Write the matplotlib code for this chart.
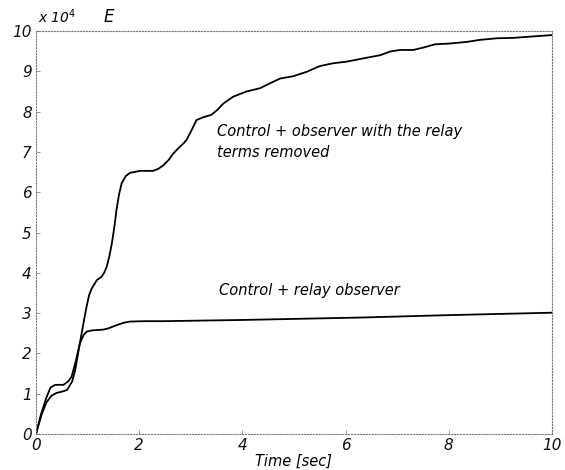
import matplotlib
matplotlib.use("Agg")
import matplotlib.pyplot as plt

# Data (E in units of 10^4)
t_removed = [0, 0.1, 0.2, 0.3, 0.4, 0.5, 0.6, 0.7, 0.76, 0.85, 0.92, 0.98, 1.03, 1.08,
             1.18, 1.27, 1.32, 1.37, 1.42, 1.47, 1.52, 1.56, 1.61, 1.66, 1.74, 1.82,
             2.02, 2.27, 2.37, 2.47, 2.57, 2.66, 2.79, 2.85, 2.92, 3.0, 3.11, 3.24,
             3.40, 3.52, 3.63, 3.82, 4.08, 4.34, 4.53, 4.73, 4.99, 5.25, 5.50, 5.76,
             6.02, 6.34, 6.67, 6.86, 7.05, 7.31, 7.51, 7.73, 8.02, 8.35, 8.60, 8.93,
             9.25, 9.57, 10.0]
E_removed = [0, 0.45, 0.78, 0.95, 1.02, 1.05, 1.09, 1.30, 1.59, 2.25, 2.75, 3.16, 3.45, 3.61,
             3.82, 3.90, 4.00, 4.15, 4.40, 4.73, 5.15, 5.56, 5.95, 6.22, 6.40, 6.48,
             6.53, 6.53, 6.58, 6.67, 6.80, 6.96, 7.13, 7.20, 7.30, 7.50, 7.79, 7.86,
             7.92, 8.05, 8.20, 8.37, 8.50, 8.58, 8.70, 8.82, 8.88, 8.99, 9.13, 9.20,
             9.24, 9.32, 9.40, 9.49, 9.53, 9.53, 9.59, 9.67, 9.69, 9.73, 9.78, 9.82,
             9.83, 9.86, 9.90]

t_relay = [0, 0.1, 0.2, 0.28, 0.37, 0.53, 0.62, 0.69, 0.77, 0.85, 0.92, 0.98, 1.08, 1.18,
           1.30, 1.40, 1.56, 1.70, 1.82, 2.1, 2.47, 4.0, 6.3, 8.0, 10.0]
E_relay = [0, 0.5, 0.9, 1.15, 1.22, 1.22, 1.30, 1.42, 1.80, 2.25, 2.45, 2.54, 2.57, 2.58,
           2.59, 2.62, 2.70, 2.76, 2.79, 2.80, 2.80, 2.83, 2.89, 2.95, 3.01]

x_ticks = [0, 2, 4, 6, 8, 10]
y_ticks = [0, 1, 2, 3, 4, 5, 6, 7, 8, 9, 10]

label_removed = "Control + observer with the relay\nterms removed"
label_relay = "Control + relay observer"

plt.rcParams['font.family'] = ['DejaVu Sans']
fig = plt.figure(figsize=(5.65, 4.70), dpi=100)
ax = fig.add_axes([0.0637, 0.0766, 0.977 - 0.0637, 0.934 - 0.0766])

ax.plot(t_removed, E_removed, color='black', lw=1.3)
ax.plot(t_relay, E_relay, color='black', lw=1.3)

ax.set_xlim(0, 10)
ax.set_ylim(0, 10)
ax.set_xticks(x_ticks)
ax.set_yticks(y_ticks)
ax.set_xticklabels([str(v) for v in x_ticks], fontstyle='italic', fontsize=11, color='#111111')
ax.set_yticklabels([str(v) for v in y_ticks], fontstyle='italic', fontsize=11, color='#111111')
ax.tick_params(direction='in', length=3, width=0.6, color='#888888', pad=3)

for s in ax.spines.values():
    s.set_linestyle(':')
    s.set_linewidth(0.8)
    s.set_color('#777777')

ax.text(3.5, 7.25, label_removed, fontsize=10.5, fontstyle='italic', va='center', ha='left',
        linespacing=1.45)
ax.text(3.55, 3.55, label_relay, fontsize=10.5, fontstyle='italic', va='center', ha='left')

fig.text(38 / 565, 1 - 17 / 470, r"x 10$^4$", fontsize=10, fontstyle='italic', va='center', ha='left')
fig.text(104 / 565, 1 - 17 / 470, "E", fontsize=12, fontstyle='italic', va='center', ha='left')
fig.text(0.52, 1 - 461 / 470, "Time [sec]", fontsize=10.5, fontstyle='italic', va='center', ha='center')

fig.savefig("out.png", dpi=100)
